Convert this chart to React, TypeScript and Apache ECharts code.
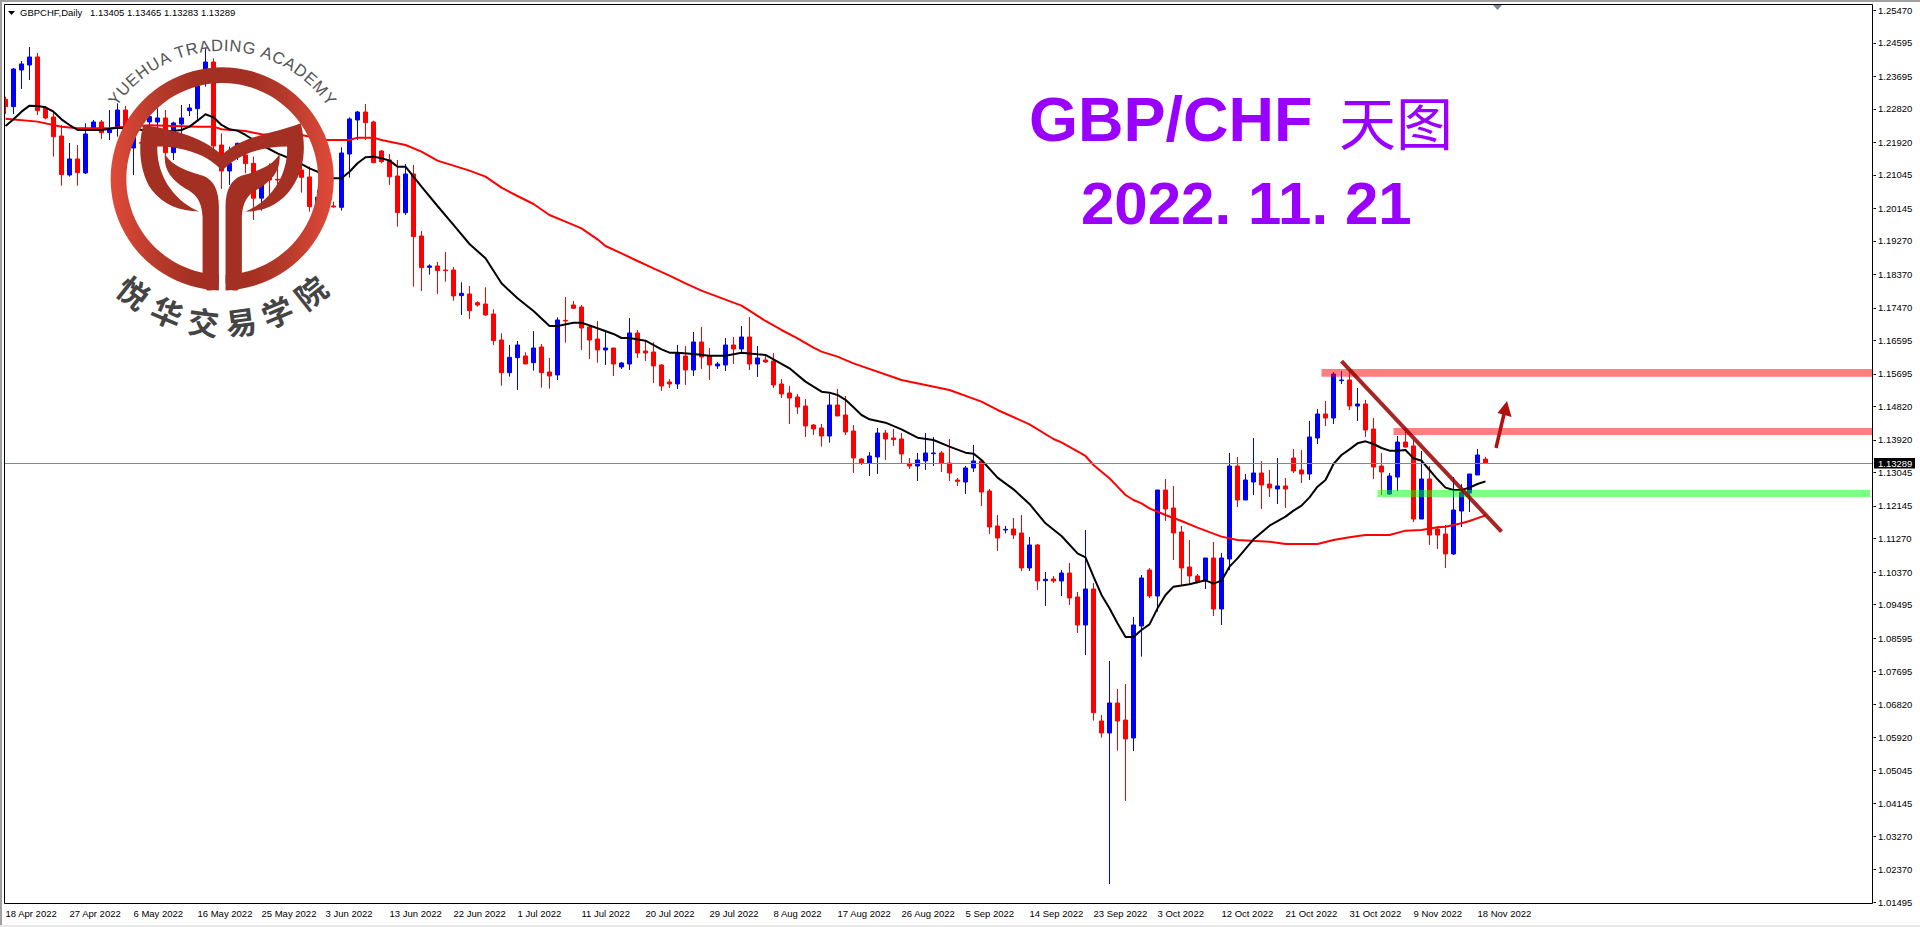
import React, { useEffect, useRef } from "react";
import * as echarts from "echarts";

const tickLabels = ["18 Apr 2022","27 Apr 2022","6 May 2022","16 May 2022","25 May 2022","3 Jun 2022","13 Jun 2022","22 Jun 2022","1 Jul 2022","11 Jul 2022","20 Jul 2022","29 Jul 2022","8 Aug 2022","17 Aug 2022","26 Aug 2022","5 Sep 2022","14 Sep 2022","23 Sep 2022","3 Oct 2022","12 Oct 2022","21 Oct 2022","31 Oct 2022","9 Nov 2022","18 Nov 2022"];
const priceTicks = [1.2547,1.24595,1.23695,1.2282,1.2192,1.21045,1.20145,1.1927,1.1837,1.1747,1.16595,1.15695,1.1482,1.1392,1.13045,1.12145,1.1127,1.1037,1.09495,1.08595,1.07695,1.0682,1.0592,1.05045,1.04145,1.0327,1.0237,1.01495];

const opens = [1.23077,1.2288,1.23865,1.24,1.24215,1.22835,1.22602,1.22091,1.21043,1.21473,1.21097,1.22288,1.22468,1.22181,1.22297,1.2279,1.21769,1.21912,1.22468,1.22468,1.22575,1.21643,1.22414,1.22772,1.22826,1.23892,1.2408,1.21849,1.2115,1.21554,1.21581,1.21357,1.2042,1.21043,1.20927,1.20864,1.21267,1.21177,1.20989,1.20192,1.20237,1.2021,1.20174,1.21607,1.22521,1.22736,1.22468,1.21688,1.21446,1.21016,1.2003,1.2107,1.19403,1.18561,1.18597,1.18489,1.18489,1.178,1.17844,1.17611,1.17575,1.17306,1.16607,1.15729,1.16132,1.16177,1.15998,1.16419,1.15747,1.15667,1.17136,1.17548,1.17494,1.16957,1.16634,1.16339,1.16392,1.15882,1.15962,1.16796,1.16312,1.16285,1.15935,1.15478,1.15425,1.16177,1.15801,1.16554,1.16177,1.15909,1.15935,1.16473,1.16365,1.16688,1.15962,1.1607,1.16043,1.15425,1.15183,1.15075,1.14833,1.14322,1.14242,1.14027,1.1486,1.14591,1.14161,1.13408,1.13301,1.13462,1.14107,1.13973,1.13946,1.13292,1.1322,1.13355,1.13552,1.1357,1.13301,1.12844,1.1279,1.13167,1.13355,1.12548,1.11608,1.115,1.11527,1.11419,1.10479,1.11097,1.10138,1.10183,1.10129,1.10344,1.09699,1.08946,1.09914,1.06366,1.06043,1.06849,1.06392,1.05909,1.08919,1.10425,1.09726,1.12575,1.12091,1.11446,1.10505,1.10264,1.10129,1.10747,1.09376,1.1072,1.1322,1.12306,1.1279,1.13032,1.12736,1.12602,1.12683,1.13435,1.13113,1.13005,1.13973,1.14618,1.1451,1.15514,1.15532,1.14833,1.14887,1.14215,1.1322,1.12467,1.12924,1.13865,1.13758,1.11795,1.12871,1.11527,1.11392,1.10855,1.1201,1.12494,1.12978,1.13405];
const closes = [1.2288,1.23892,1.24027,1.24215,1.22772,1.22575,1.22073,1.21052,1.21473,1.21106,1.22145,1.22468,1.22181,1.22253,1.2279,1.22297,1.22208,1.21894,1.22611,1.22575,1.21643,1.22441,1.22575,1.22844,1.23435,1.2408,1.21823,1.2115,1.21357,1.21894,1.21348,1.2042,1.2089,1.20909,1.20909,1.21088,1.21088,1.2098,1.20192,1.20443,1.20461,1.20183,1.21634,1.22548,1.22736,1.2245,1.21375,1.21401,1.20998,1.2003,1.2107,1.19385,1.18552,1.18597,1.18471,1.18471,1.17791,1.17862,1.17396,1.17548,1.17279,1.16589,1.15729,1.16141,1.16473,1.15962,1.16392,1.15729,1.1564,1.17145,1.17118,1.17459,1.1693,1.16607,1.16339,1.16392,1.15962,1.15989,1.16796,1.16258,1.16258,1.15909,1.15371,1.15425,1.16249,1.15801,1.16554,1.1615,1.15935,1.15962,1.16473,1.16365,1.16688,1.15962,1.16124,1.16016,1.15398,1.15156,1.15048,1.14806,1.14296,1.14215,1.14027,1.1486,1.14564,1.14134,1.13435,1.13292,1.13489,1.14107,1.13946,1.13928,1.13543,1.1322,1.13382,1.1357,1.1357,1.13301,1.13032,1.12808,1.13167,1.13355,1.12521,1.11581,1.11285,1.11518,1.11366,1.10479,1.11097,1.10129,1.10174,1.10129,1.10344,1.09672,1.08946,1.09914,1.0659,1.06043,1.06849,1.06366,1.05882,1.08946,1.1021,1.09726,1.12575,1.12064,1.11419,1.10479,1.10264,1.10102,1.10747,1.09376,1.10747,1.1322,1.12306,1.12844,1.13032,1.12709,1.12629,1.12683,1.12602,1.13086,1.13005,1.14,1.14618,1.1451,1.15693,1.15532,1.14833,1.14887,1.14188,1.13193,1.13059,1.12951,1.13865,1.1373,1.11795,1.12871,1.11365,1.11365,1.10855,1.12037,1.12521,1.13005,1.13516,1.13289];
const lows = [1.22683,1.22683,1.23355,1.23597,1.22656,1.22539,1.21536,1.20756,1.20998,1.20756,1.2107,1.22253,1.22011,1.21984,1.22073,1.22163,1.21043,1.2176,1.22163,1.21984,1.21536,1.21446,1.21894,1.22629,1.22521,1.23417,1.21715,1.20667,1.20774,1.21446,1.21088,1.19833,1.20084,1.20461,1.20595,1.2064,1.20909,1.20568,1.20057,1.20102,1.20147,1.20165,1.20084,1.20971,1.21984,1.21984,1.21357,1.21357,1.20774,1.19654,1.19968,1.18041,1.17925,1.18364,1.17844,1.18176,1.17665,1.1728,1.17172,1.17503,1.17261,1.16473,1.1538,1.15622,1.15263,1.15962,1.15783,1.15326,1.15299,1.15532,1.16536,1.17441,1.16339,1.16097,1.15998,1.15935,1.1564,1.15828,1.15801,1.16124,1.16043,1.15452,1.15237,1.15317,1.1529,1.15398,1.1564,1.15828,1.15532,1.15828,1.15774,1.15962,1.16231,1.15801,1.15613,1.15989,1.15317,1.15048,1.14349,1.14618,1.14,1.14054,1.1374,1.13848,1.14564,1.14054,1.13032,1.13247,1.12952,1.13005,1.13382,1.13758,1.13292,1.1314,1.12817,1.13113,1.1322,1.1306,1.12817,1.12683,1.12468,1.1306,1.12145,1.11393,1.10936,1.1141,1.11258,1.10398,1.10398,1.09887,1.09457,1.10075,1.09726,1.09484,1.08731,1.0814,1.06375,1.05918,1.01984,1.05568,1.04215,1.05559,1.08095,1.09672,1.09305,1.11742,1.10694,1.10022,1.10048,1.10066,1.09914,1.09188,1.08946,1.10425,1.12118,1.12306,1.12441,1.12064,1.12387,1.12199,1.12091,1.13032,1.12763,1.12844,1.13811,1.14295,1.14349,1.15424,1.14725,1.1443,1.14,1.12871,1.12441,1.12441,1.12548,1.13713,1.11715,1.11795,1.11097,1.10989,1.10478,1.10828,1.1158,1.11984,1.12978,1.13283];
const highs = [1.23149,1.23919,1.24107,1.24484,1.24322,1.22898,1.22719,1.22387,1.21903,1.21849,1.22432,1.22521,1.22521,1.2279,1.22969,1.22898,1.22342,1.22029,1.227,1.22835,1.2279,1.22477,1.22925,1.22951,1.23507,1.24448,1.2418,1.22163,1.21805,1.21912,1.21805,1.21536,1.21088,1.21357,1.21222,1.21267,1.21446,1.21446,1.21267,1.2064,1.20595,1.20326,1.21787,1.22593,1.22763,1.22951,1.22503,1.21715,1.21607,1.21446,1.21339,1.21312,1.19538,1.18642,1.18704,1.18973,1.1857,1.18158,1.18059,1.17647,1.18023,1.17432,1.16787,1.16473,1.1658,1.16276,1.16849,1.165,1.16124,1.17217,1.17763,1.17656,1.17548,1.16984,1.17118,1.16876,1.16392,1.16016,1.17199,1.16876,1.16607,1.16545,1.15962,1.15559,1.16473,1.16446,1.16822,1.16957,1.16392,1.16016,1.16661,1.16688,1.16984,1.17226,1.16446,1.16177,1.16258,1.15559,1.15371,1.15156,1.15021,1.14349,1.14349,1.15156,1.1529,1.15102,1.14322,1.13435,1.13597,1.14242,1.14188,1.14215,1.14107,1.13435,1.1357,1.14107,1.14,1.13624,1.13946,1.12898,1.1322,1.13785,1.13382,1.12602,1.11903,1.11608,1.11823,1.11903,1.11312,1.11124,1.10371,1.10264,1.10425,1.10613,1.09833,1.115,1.10075,1.06527,1.07978,1.07226,1.0736,1.09161,1.1029,1.10479,1.12575,1.12871,1.12683,1.11608,1.11231,1.10317,1.10747,1.11177,1.10882,1.1357,1.13462,1.13005,1.13973,1.13355,1.13113,1.13435,1.12897,1.13677,1.1365,1.1443,1.14752,1.14967,1.15747,1.15774,1.15747,1.15317,1.14994,1.1451,1.1357,1.13032,1.14026,1.14188,1.13919,1.13623,1.1322,1.11607,1.11634,1.12924,1.12736,1.13005,1.13677,1.13465];

const blackMa = [[0,1.2236],[1,1.22539],[2,1.22745],[3,1.22907],[4,1.22898],[5,1.22862],[6,1.22745],[7,1.22539],[8,1.22387],[9,1.22253],[10,1.22253],[12,1.22253],[14,1.22315],[16,1.22297],[18,1.22208],[20,1.22208],[22,1.22253],[23,1.22342],[24,1.22503],[25,1.22674],[26,1.22593],[27,1.22387],[28,1.22271],[29,1.22235],[30,1.22118],[32,1.21849],[34,1.21625],[36,1.21446],[38,1.21222],[40,1.21043],[41,1.20953],[42,1.20953],[43,1.2113],[44,1.21357],[45,1.21518],[46,1.21536],[47,1.21491],[48,1.21428],[49,1.21267],[50,1.21267],[52,1.20729],[54,1.20209],[56,1.19699],[58,1.19188],[60,1.18803],[62,1.18131],[64,1.17727],[66,1.17387],[68,1.16984],[69,1.16984],[71,1.17073],[72,1.17073],[74,1.16921],[76,1.16769],[77,1.16661],[78,1.16661],[80,1.16589],[82,1.16357],[83,1.16267],[84,1.16267],[86,1.16231],[88,1.16186],[90,1.16186],[92,1.16267],[94,1.16222],[95,1.16204],[96,1.16088],[98,1.15846],[100,1.15488],[102,1.15219],[103,1.15192],[104,1.15129],[105,1.15],[106,1.14797],[107,1.14591],[108,1.14475],[110,1.14385],[112,1.14206],[114,1.13982],[116,1.13919],[118,1.1374],[120,1.13579],[121,1.13552],[122,1.13382],[124,1.12907],[126,1.12593],[128,1.12199],[130,1.11679],[132,1.11339],[134,1.10873],[135,1.10765],[136,1.10246],[137,1.09753],[138,1.09394],[139,1.08991],[140,1.08624],[141,1.08624],[142,1.08812],[143,1.08964],[144,1.09394],[145,1.09753],[146,1.09977],[148,1.1004],[150,1.10147],[151,1.10057],[152,1.10138],[153,1.10514],[154,1.10738],[156,1.11249],[158,1.11616],[160,1.11858],[161,1.1202],[162,1.12154],[163,1.12378],[164,1.12665],[165,1.12844],[166,1.13274],[167,1.13516],[168,1.13668],[169,1.13829],[170,1.13883],[171,1.13811],[172,1.13704],[173,1.13632],[174,1.13632],[175,1.1365],[176,1.13426],[177,1.13363],[178,1.13113],[179,1.12862],[180,1.12638],[181,1.12575],[182,1.12575],[183,1.12638],[184,1.12736],[185,1.12808]];
const redMa = [[0,1.22557],[4,1.22477],[7,1.22342],[9,1.22297],[13,1.22297],[15,1.22342],[18,1.22378],[24,1.22342],[26,1.22342],[27,1.22271],[30,1.22226],[32,1.22136],[37,1.22118],[40,1.21984],[43,1.21984],[44,1.22047],[46,1.22047],[47,1.21984],[50,1.21849],[52,1.2167],[54,1.21428],[56,1.21294],[58,1.21159],[60,1.20998],[62,1.20702],[64,1.20478],[66,1.20263],[68,1.19967],[70,1.19788],[72,1.19609],[74,1.19313],[75,1.19134],[77,1.18937],[79,1.18731],[81,1.18534],[83,1.18337],[85,1.18131],[87,1.17933],[89,1.17772],[92,1.1753],[93,1.17396],[95,1.17118],[97,1.16876],[99,1.16652],[101,1.16401],[102,1.16294],[104,1.1616],[106,1.1598],[112,1.15532],[118,1.15263],[122,1.1495],[124,1.14726],[128,1.1434],[131,1.13946],[132,1.13856],[135,1.13489],[136,1.13247],[137,1.13068],[138,1.12889],[139,1.12665],[140,1.12441],[141,1.12306],[142,1.12217],[143,1.12082],[145,1.11903],[147,1.11742],[149,1.11563],[152,1.11321],[154,1.11231],[158,1.11186],[160,1.11123],[164,1.11123],[166,1.11231],[168,1.11303],[170,1.11365],[173,1.11365],[175,1.11482],[177,1.115],[179,1.11571],[180,1.11589],[182,1.11679],[183,1.11742],[185,1.11894]];

const lastPrice = 1.13289;
const bandBars = [165, 174, 172];
const bandLows = [1.15621, 1.14054, 1.12387];
const bandHighs = [1.15828, 1.14242, 1.12575];
const bandColors = ["rgba(255,0,0,0.5)", "rgba(255,0,0,0.5)", "rgba(0,255,0,0.5)"];
const trendBars = [167, 187];
const trendPrices = [1.16037, 1.11456];

const SLOTS = 234;
const categories = Array.from({ length: SLOTS }, (_, i) => (i % 8 === 0 ? tickLabels[i / 8] || "" : ""));
const candles = opens.map((o, i) => [o, closes[i], lows[i], highs[i]]);

const FONT = '"Liberation Sans"';
const RING = "M357 812 A335 335 0 1 1 377 812 L377 765 A288 288 0 1 0 357 765 Z";
const HORNS = "M130 315 C200 325 300 345 367 405 C430 345 530 340 603 310 C620 380 615 450 575 505 C540 555 490 575 437 575 C500 550 565 480 562 380 C480 380 410 405 367 453 C325 405 250 380 172 380 C170 480 235 550 298 575 C240 575 190 555 155 510 C120 460 112 380 130 315 Z";
const STEM_L = "M195 402 C215 440 265 455 310 468 C340 480 357 510 357 560 L357 785 C357 805 340 815 322 812 L300 790 L308 763 L308 590 C305 540 285 520 255 505 C215 480 190 450 195 402 Z";
const STEM_R = "M539 402 C519 440 469 455 424 468 C394 480 377 510 377 560 L377 785 C377 805 394 815 412 812 L434 790 L426 763 L426 590 C429 540 449 520 479 505 C519 480 544 450 539 402 Z";
echarts.graphic.registerShape("logoRing", echarts.graphic.extendPath(RING, {}));
echarts.graphic.registerShape("logoHorns", echarts.graphic.extendPath(HORNS, {}));
echarts.graphic.registerShape("logoStemL", echarts.graphic.extendPath(STEM_L, {}));
echarts.graphic.registerShape("logoStemR", echarts.graphic.extendPath(STEM_R, {}));

function logoElements() {
  const Z = 50;
  const cx = 222.2, cy = 179;
  const els: any[] = [];
  const base = { x: 100, y: 20, scaleX: 1 / 3, scaleY: 1 / 3, z: Z, silent: true };
  const brown = "#a33022";
  els.push({
    type: "logoRing", ...base,
    style: { fill: new echarts.graphic.LinearGradient(0, 0, 1, 0, [
      { offset: 0, color: "#e04a3a" }, { offset: 0.22, color: "#b53a2a" }, { offset: 0.38, color: brown },
      { offset: 0.62, color: brown }, { offset: 0.78, color: "#b53a2a" }, { offset: 1, color: "#e04a3a" },
    ]) },
  });
  els.push({ type: "logoHorns", ...base, style: { fill: brown } });
  els.push({ type: "logoStemL", ...base, style: { fill: brown } });
  els.push({ type: "logoStemR", ...base, style: { fill: brown } });

  const arcText = "YUEHUA TRADING ACADEMY";
  const ctx = document.createElement("canvas").getContext("2d")!;
  const size = 16.5;
  ctx.font = `${size}px ${FONT}`;
  const total = ctx.measureText(arcText).width;
  const r = 134;
  let run = -total / 2;
  for (const ch of arcText) {
    const w = ctx.measureText(ch).width;
    const phi = (run + w / 2) / 120;
    run += w;
    if (ch === " ") continue;
    els.push({
      type: "text", z: Z, silent: true,
      x: cx + r * Math.sin(phi), y: cy - r * Math.cos(phi), rotation: -phi,
      style: { text: ch, fill: "#555555", font: `${size}px ${FONT}`, align: "center", verticalAlign: "middle" },
    });
  }
  const cn = "悦华交易学院";
  const angles = [-38, -22.5, -7.5, 7.5, 22.5, 38];
  Array.from(cn).forEach((ch, i) => {
    const a = (angles[i] * Math.PI) / 180;
    els.push({
      type: "text", z: Z, silent: true,
      x: cx + 143 * Math.sin(a), y: cy + 143 * Math.cos(a), rotation: a,
      style: { text: ch, fill: "#444444", font: `bold 31px "Noto Sans CJK SC"`, align: "center", verticalAlign: "middle" },
    });
  });
  return els;
}

function chromeElements() {
  const Z = 60;
  const small = `9.5px ${FONT}`;
  const title = `bold 60px ${FONT}`;
  return [
    { type: "rect", z: Z, silent: true, shape: { x: 0, y: 0, width: 4, height: 927 }, style: { fill: "#ffffff" } },
    { type: "rect", z: Z + 1, silent: true, shape: { x: 0, y: 0, width: 1920, height: 2 }, style: { fill: "#a0a0a0" } },
    { type: "rect", z: Z + 1, silent: true, shape: { x: 0, y: 0, width: 2, height: 925 }, style: { fill: "#a0a0a0" } },
    { type: "rect", z: Z + 1, silent: true, shape: { x: 0, y: 925, width: 1920, height: 2 }, style: { fill: "#e8e8e8" } },
    { type: "rect", z: Z + 1, silent: true, shape: { x: 4.5, y: 4.5, width: 1868, height: 899 }, style: { fill: "none", stroke: "#000000", lineWidth: 1 } },
    { type: "polygon", z: Z + 1, silent: true, shape: { points: [[8, 11], [15, 11], [11.5, 15]] }, style: { fill: "#000000" } },
    { type: "text", z: Z + 1, silent: true, x: 20, y: 12.5, style: { text: "GBPCHF,Daily", fill: "#000000", font: small, verticalAlign: "middle" } },
    { type: "text", z: Z + 1, silent: true, x: 90, y: 12.5, style: { text: "1.13405 1.13465 1.13283 1.13289", fill: "#000000", font: small, verticalAlign: "middle" } },
    { type: "polygon", z: Z + 1, silent: true, shape: { points: [[1493, 5], [1502, 5], [1497.5, 10]] }, style: { fill: "#778899" } },
    { type: "rect", z: Z + 1, silent: true, shape: { x: 1874, y: 458, width: 41, height: 10.5 }, style: { fill: "#000000" } },
    { type: "text", z: Z + 2, silent: true, x: 1878, y: 463.5, style: { text: lastPrice.toFixed(5), fill: "#ffffff", font: small, verticalAlign: "middle" } },
    { type: "line", z: Z, silent: true, shape: { x1: 1496, y1: 448, x2: 1504, y2: 414 }, style: { stroke: "#b01010", lineWidth: 3.5 } },
    { type: "polygon", z: Z, silent: true, shape: { points: [[1507, 401], [1497.5, 413], [1511.5, 417]] }, style: { fill: "#b01010" } },
    { type: "text", z: Z, silent: true, x: 1029, y: 119, style: { text: "GBP/CHF", fill: "#9900ff", font: `bold 63px ${FONT}`, verticalAlign: "middle" } },
    { type: "text", z: Z, silent: true, x: 1339, y: 120, style: { text: "天图", fill: "#9900ff", font: `57px "Noto Sans CJK SC"`, verticalAlign: "middle" } },
    { type: "text", z: Z, silent: true, x: 1081, y: 203, style: { text: "2022.", fill: "#9900ff", font: title, verticalAlign: "middle" } },
    { type: "text", z: Z, silent: true, x: 1248, y: 203, style: { text: "11.", fill: "#9900ff", font: title, verticalAlign: "middle" } },
    { type: "text", z: Z, silent: true, x: 1345, y: 203, style: { text: "21", fill: "#9900ff", font: title, verticalAlign: "middle" } },
  ];
}

export default function App() {
  const ref = useRef<HTMLDivElement>(null);
  useEffect(() => {
    document.body.style.margin = "0";
    const chart = echarts.init(ref.current!, undefined, { renderer: "svg" });
    chart.setOption({
      animation: false,
      backgroundColor: "#ffffff",
      grid: { left: 1.5, top: 4, width: 1872, height: 900 },
      xAxis: {
        type: "category",
        data: categories,
        boundaryGap: true,
        axisLine: { show: false },
        axisTick: {
          alignWithLabel: true, length: 2.5,
          interval: (i: number) => i % 8 === 0 && i <= 184,
          lineStyle: { color: "#000000" },
        },
        axisLabel: {
          interval: (i: number) => i % 8 === 0 && i <= 184,
          align: "left", margin: 4, hideOverlap: false,
          color: "#000000", fontFamily: "Liberation Sans", fontSize: 9.5,
        },
        splitLine: { show: false },
      },
      yAxis: {
        type: "value",
        position: "right",
        min: 1.01446,
        max: 1.25639,
        scale: true,
        axisLine: { show: false },
        axisTick: { show: true, length: 2.5, customValues: priceTicks, lineStyle: { color: "#000000" } },
        axisLabel: {
          customValues: priceTicks, margin: 4.5, showMinLabel: true, showMaxLabel: true,
          formatter: (v: number) => v.toFixed(5),
          color: "#000000", fontFamily: "Liberation Sans", fontSize: 9.5,
        },
        splitLine: { show: false },
      },
      series: [
        {
          type: "candlestick", name: "GBPCHF", data: candles, barWidth: 4, z: 2, silent: true,
          itemStyle: { color: "#0000ff", color0: "#ff0000", borderColor: "#0000ff", borderColor0: "#ff0000", borderWidth: 1 },
          markLine: {
            silent: true, symbol: "none", precision: 5, label: { show: false },
            lineStyle: { color: "#778899", width: 1, type: "solid" },
            data: [{ yAxis: lastPrice }],
          },
        },
        { type: "line", name: "MA long", data: redMa, showSymbol: false, symbol: "none", z: 3, silent: true, lineStyle: { color: "#ff0000", width: 2 } },
        { type: "line", name: "MA short", data: blackMa, showSymbol: false, symbol: "none", z: 4, silent: true, lineStyle: { color: "#000000", width: 2 } },
        {
          type: "custom", name: "levels", z: 5, silent: true, clip: false,
          data: bandBars.map((b, i) => [b, bandLows[i], bandHighs[i]]),
          renderItem: (params: any, api: any) => {
            const i = params.dataIndex;
            const a = api.coord([api.value(0), api.value(2)]);
            const b = api.coord([api.value(0), api.value(1)]);
            const half = api.size([1, 0])[0] / 2;
            const right = params.coordSys.x + params.coordSys.width - (i === 2 ? 3.5 : 1.5);
            return { type: "rect", shape: { x: a[0] - half, y: a[1], width: right - a[0] + half, height: b[1] - a[1] }, style: { fill: bandColors[i] } };
          },
        },
        {
          type: "custom", name: "trend", z: 6, silent: true, clip: false,
          data: [[trendBars[0], trendPrices[0], trendBars[1], trendPrices[1]]],
          renderItem: (_p: any, api: any) => {
            const a = api.coord([trendBars[0], trendPrices[0]]);
            const b = api.coord([trendBars[1], trendPrices[1]]);
            return { type: "line", shape: { x1: a[0], y1: a[1], x2: b[0], y2: b[1] }, style: { stroke: "rgba(150,0,0,0.85)", lineWidth: 4 } };
          },
        },
      ],
      graphic: { elements: [...logoElements(), ...chromeElements()] },
    });
    return () => chart.dispose();
  }, []);
  return <div ref={ref} style={{ position: "fixed", left: 0, top: 0, width: 1920, height: 927 }} />;
}
